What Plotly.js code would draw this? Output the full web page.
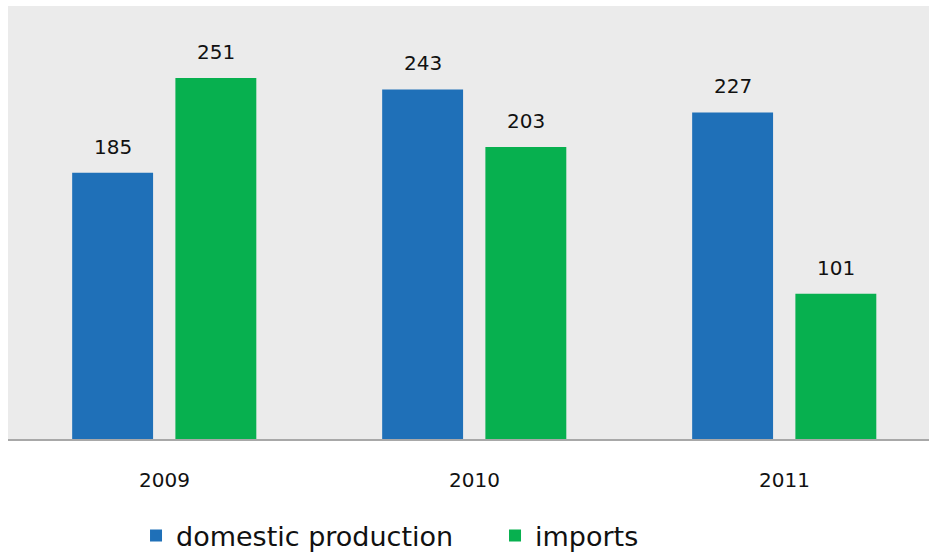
<!DOCTYPE html>
<html>
<head>
<meta charset="utf-8">
<script src="https://cdn.plot.ly/plotly-3.0.1.min.js"></script>
<style>html,body{margin:0;padding:0;background:#fff;}#chart{width:929px;height:552px;}</style>
</head>
<body>
<div id="chart"></div>
<script>
const years = ['2009', '2010', '2011'];
const seriesNames = ['domestic production', 'imports'];
const domestic = [185, 243, 227];
const imports = [251, 203, 101];

const colors = ['#1f70b8', '#07b04f'];
const barWidth = 0.261;
const offsets = [-0.298, 0.035];
const FONT = '"DejaVu Sans", sans-serif';

const seriesValues = [domestic, imports];
const traces = seriesValues.map((vals, k) => ({
  type: 'bar',
  name: seriesNames[k],
  x: years,
  y: vals,
  width: barWidth,
  offset: offsets[k],
  marker: {color: colors[k]},
  hoverinfo: 'x+y+name'
}));

const annotations = [];
seriesValues.forEach((vals, k) => {
  vals.forEach((v, i) => {
    annotations.push({
      x: i + offsets[k] + barWidth / 2,
      y: v,
      xref: 'x', yref: 'y',
      text: String(v),
      showarrow: false,
      yanchor: 'middle',
      yshift: 26,
      font: {family: FONT, size: 20, color: '#111'}
    });
  });
});

const layout = {
  width: 929, height: 552,
  margin: {l: 8, r: 0, t: 6, b: 113, pad: 0, autoexpand: false},
  paper_bgcolor: '#ffffff',
  plot_bgcolor: '#ebebeb',
  barmode: 'group',
  showlegend: true,
  legend: {
    orientation: 'h', x: 0.139, xanchor: 'left', y: -0.224, yanchor: 'middle',
    font: {family: FONT, size: 27, color: '#111'},
    entrywidth: 314, entrywidthmode: 'pixels',
    traceorder: 'normal'
  },
  xaxis: {
    type: 'category',
    range: [-0.505, 2.466],
    showgrid: false, zeroline: false,
    showline: true, linecolor: '#a8a8a8', linewidth: 2,
    ticks: '', ticklabelstandoff: 22,
    tickfont: {family: FONT, size: 20, color: '#111'},
    fixedrange: true
  },
  yaxis: {
    range: [0, 301],
    showgrid: false, zeroline: false, showline: false,
    showticklabels: false, ticks: '',
    fixedrange: true
  },
  annotations: annotations
};

Plotly.newPlot('chart', traces, layout, {displayModeBar: false, staticPlot: true});
</script>
</body>
</html>
